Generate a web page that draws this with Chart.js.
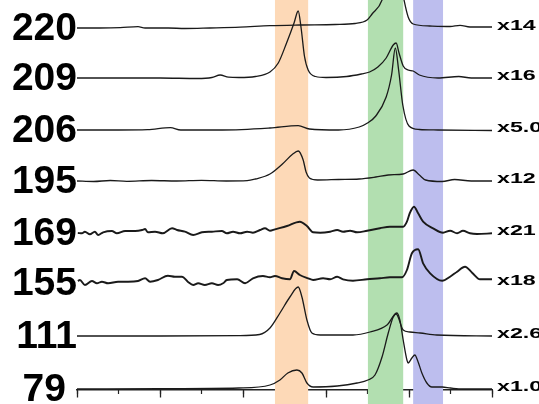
<!DOCTYPE html>
<html>
<head>
<meta charset="utf-8">
<script src="https://cdn.jsdelivr.net/npm/chart.js@4"></script>
<style>
  html, body { margin: 0; padding: 0; background: #fff; }
  canvas { display: block; }
</style>
</head>
<body>
<canvas id="spectra" width="539" height="404"></canvas>
<script>
// sample names, vertical offset of each trace and the gain written at its end
const sampleNames = ['220', '209', '206', '195', '169', '155', '111', '79'];
const offsets = [376, 326, 274, 223, 171, 121, 68, 15];
const gains = ['x14', 'x16', 'x5.0', 'x12', 'x21', 'x18', 'x2.6', 'x1.0'];

// shaded regions [start, end] on the x axis
const bandStart = [47.7, 70.1, 81.0];
const bandEnd = [55.7, 78.6, 88.2];
const bandColors = ['#FDD9B7', '#B2DFB0', '#BDBEEE'];

// traces: [x, signal above the trace baseline]
const trace220 = [[0,0],[5.5,0],[10.4,0.3],[14.7,1.3],[16.4,0],[22,0],[26,-0.5],[32,0],[39.3,0.8],[46.5,2.3],
  [53.7,3],[62.2,3.5],[67,4.5],[69.9,8],[71.1,14],[73.5,28],[75,55],[76.4,90],[77.6,55],[78.8,28],[79.8,11],
  [81,4],[85,2],[89.9,1.5],[92.3,2.7],[94.7,1],[100,1]];
const trace209 = [[0,0],[10,0],[20,0],[29,-0.5],[32.5,0.5],[34.5,3],[36.5,0.8],[39,0.5],[43,1.5],[46.5,6],[48.5,15],[50.5,35],[52.3,55],
  [53.3,67],[54,50],[54.8,22],[55.7,8],[57.5,1.5],[60,0.5],[65,1.5],[68.5,4],[70.5,6],[72.5,11],[74.5,20],
  [76.2,33],[76.9,35],[77.6,25],[78.6,12],[79.8,8],[81,7],[82.5,3],[87,0],[92,1.5],[95,0],[100,0]];
const trace206 = [[0,0],[10,0],[17,0.3],[22.5,2.3],[25,0],[35,0],[46.5,2],[53.3,4.3],[56,1],[63,0],[68,3],
  [70,7],[72,14],[74.5,33],[75.8,55],[76.7,82],[77.5,60],[78.5,25],[80,4],[82.5,0.5],[87,0],[100,-0.5]];
const trace195 = [[0,0],[4,-0.5],[8,0.5],[12,-0.3],[18,0.5],[24,0],[30,0.7],[36,0],[41,0.3],[43,2],[46.5,7],
  [49.5,17],[52,27],[53.3,30],[54.5,21],[55.2,9],[56,3],[58,1],[63,1.5],[68,2],[72,4],[75,6],[78.6,7],
  [81,11],[82.5,6],[84,1],[88,-0.5],[91,1.5],[95,0],[100,0]];
const trace169 = [[0.2,0],[1.2,-0.3],[1.9,1.3],[3.1,-1.3],[4.3,1.3],[5.1,-2],[6.3,0.7],[8.4,2],[9.6,-0.3],
  [11.6,2],[14,2],[15.7,3],[16.4,4],[17.1,0.7],[18.8,1.3],[20.7,-0.3],[22.9,4.7],[24.1,3],[26,1.3],[28,-2],
  [30.1,0.7],[32.5,1.3],[34.9,2],[36.1,-0.3],[37.6,1.3],[39.3,-0.3],[41,1.3],[42.4,0.3],[44.1,3],[45.3,4.7],
  [46.5,2.3],[47.7,3.7],[50.6,7],[53.7,11.3],[55.4,7],[56.9,0.7],[58.6,0.3],[61,1.3],[62.7,3],[64.1,1.3],
  [65.8,2.3],[67.5,0.7],[69.9,2.3],[73,4.7],[75.4,6.3],[78.6,6.3],[79.5,11.3],[80.2,20],[81.2,26.3],
  [82.2,19.7],[83.4,11.3],[85.8,4.7],[88.2,0.3],[89.9,2.3],[91.6,-0.3],[93,2.3],[94.7,-0.3],[96.4,-1],[100,-0.3]];
const trace155 = [[0.2,2],[0.7,3],[1.9,-2],[3.6,2],[4.8,-0.3],[6,1.3],[7.5,-0.3],[9.9,1.3],[12.3,1.3],[14.7,2],
  [16.4,4.7],[17.6,1.3],[19.5,3],[21.9,7.3],[23.6,6.3],[25.3,6.3],[26.7,1.3],[28,-2],[29.2,-0.3],[30.8,-2],
  [32.5,-0.3],[34,-2],[35.2,-0.3],[36.1,3],[38.6,3.7],[40.5,-0.3],[42.4,4.7],[44.8,7],[46.5,5.7],[47.7,7],
  [49.4,4.7],[51.3,3.7],[52.3,12],[53.7,8],[55.7,4.7],[56.9,3],[59.3,4.7],[61,3.7],[62.7,6.3],[64.1,3.7],
  [66.5,2.3],[69.9,3.7],[73,4.7],[75.4,5.7],[78.3,5.7],[79.5,13],[80.7,29.7],[82.2,33.7],[83.4,19.7],
  [85.1,9.7],[88,2.3],[89.9,6.3],[91.6,11.3],[93.5,16.3],[95.2,10.3],[97.1,3.7],[100,3.7]];
const trace111 = [[0,0],[20,0],[39,0.3],[44,1.5],[46.5,8],[48.9,23],[51.3,39],[53.3,49],[54.2,39],[55.4,16],
  [56.6,3],[58.6,1],[66.5,1],[70.6,4],[74.7,11],[76.9,22],[78.6,6],[80.2,4],[82.7,3],[86.7,1],[100,0]];
const trace79 = [[0,0],[20,0.3],[39,1],[46.5,4],[48.9,9],[50.8,16],[53,19],[54.2,16],[55.4,6],[56.9,2],
  [62.7,3],[67.5,6],[70.1,9],[71.8,14],[73.5,32],[75,56],[76.2,72],[77.1,76],[77.8,69],[78.6,49],[79.5,29],
  [79.8,26],[80.7,31],[81.4,34],[82.2,27],[83.1,16],[84.3,6],[85.5,2],[88,2],[90,1],[93,0],[100,0]];

const traces = [trace220, trace209, trace206, trace195, trace169, trace155, trace111, trace79];
const noisy = ['169', '155'];

const datasets = traces.map((t, i) => ({
  label: sampleNames[i],
  data: t.map(p => ({x: p[0], y: offsets[i] + p[1]})),
  borderColor: '#1a1a1a',
  borderWidth: noisy.includes(sampleNames[i]) ? 1.9 : 1.3,
  pointRadius: 0,
  cubicInterpolationMode: 'monotone',
  xAxisID: 'x'
}));

const bandsPlugin = {
  id: 'bands',
  beforeDatasetsDraw(chart) {
    const ctx = chart.ctx, x = chart.scales.x;
    ctx.save();
    for (let i = 0; i < bandStart.length; i++) {
      const a = x.getPixelForValue(bandStart[i]);
      const b = x.getPixelForValue(bandEnd[i]);
      ctx.fillStyle = bandColors[i];
      ctx.fillRect(a, 0, b - a, chart.height);
    }
    ctx.restore();
  }
};

const labelsPlugin = {
  id: 'traceLabels',
  afterDraw(chart) {
    const ctx = chart.ctx, y = chart.scales.y, area = chart.chartArea;
    ctx.save();
    ctx.fillStyle = '#000';
    ctx.font = 'bold 39px "Liberation Sans", Arial, sans-serif';
    ctx.textAlign = 'right';
    ctx.textBaseline = 'middle';
    sampleNames.forEach((name, i) => {
      const nudge = name === '79' ? 11 : 0;
      ctx.fillText(name, area.left - nudge, y.getPixelForValue(offsets[i]) + 1);
    });
    ctx.font = 'bold 15px "Liberation Sans", Arial, sans-serif';
    ctx.textAlign = 'left';
    ctx.textBaseline = 'alphabetic';
    gains.forEach((g, i) => {
      ctx.save();
      ctx.translate(area.right + 5, y.getPixelForValue(offsets[i]) + 1.5);
      ctx.scale(1.55, 1);
      ctx.fillText(g, 0, 0);
      ctx.restore();
    });
    ctx.restore();
  }
};

new Chart(document.getElementById('spectra').getContext('2d'), {
  type: 'line',
  data: { datasets: datasets },
  options: {
    responsive: false,
    animation: false,
    devicePixelRatio: 1,
    layout: { padding: { left: 77, right: 47, top: 0, bottom: 0 } },
    plugins: { legend: { display: false }, tooltip: { enabled: false } },
    scales: {
      x: {
        type: 'linear', min: 0, max: 100,
        position: { y: 14 },
        ticks: { display: false, stepSize: 20 },
        grid: { drawOnChartArea: false, tickLength: 7, tickColor: '#222', tickWidth: 1.3 },
        border: { display: true, color: '#222', width: 1.5 }
      },
      xMinor: {
        type: 'linear', min: 0, max: 100,
        position: { y: 14 },
        ticks: { display: false, stepSize: 10 },
        grid: { drawOnChartArea: false, tickLength: 4, tickColor: '#222', tickWidth: 1.2 },
        border: { display: false }
      },
      y: { type: 'linear', display: false, min: 0, max: 404 }
    }
  },
  plugins: [bandsPlugin, labelsPlugin]
});
</script>
</body>
</html>
